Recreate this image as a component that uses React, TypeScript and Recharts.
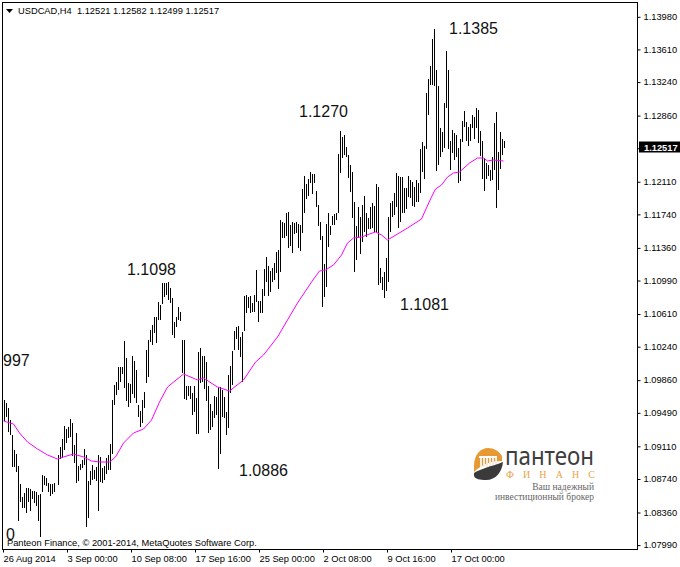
import { ComposedChart, Bar, Line, XAxis, YAxis } from "recharts";

const W = 680;
const H = 567;
const FONT = "'Liberation Sans', Arial, sans-serif";
const SERIF = "'Liberation Serif', serif";

// H4 highs and lows, one per bar, left to right
const highs = [
  1.09641, 1.09607, 1.0955, 1.09414, 1.09244, 1.09074, 1.09029, 1.08893, 1.08689, 1.08542,
  1.08587, 1.08644, 1.08644, 1.08633, 1.0861, 1.0861, 1.08598, 1.08565, 1.08576, 1.08791,
  1.0878, 1.08757, 1.087, 1.08689, 1.08689, 1.087, null, 1.09018, 1.09108, 1.09199,
  1.09346, 1.09312, 1.09335, 1.09425, 1.0938, 1.09131, 1.09267, 1.08893, 1.08916, 1.08961,
  1.09085, 1.09018, 1.08723, 1.08836, 1.08904, 1.08848, 1.08881, 1.09018, 1.08995, 1.0887,
  1.08893, 1.08983, 1.09018, 1.09142, 1.09641, 1.09811, 1.09845, 1.10015, 1.10015, 1.10015,
  1.1031, 1.10117, 1.09834, 1.09823, 1.1014, 1.10083, 1.09981, 1.09584, 1.09516, 1.09641,
  1.09732, 1.10208, 1.10321, 1.10435, 1.10491, 1.10582, 1.10582, 1.10752, 1.10718, 1.10967,
  1.10967, 1.10967, 1.10979, 1.10911, 1.10798, 1.10525, 1.10582, 1.10696, 1.10639, 1.10321,
  1.10321, 1.098, 1.098, 1.098, 1.0972, 1.098, 1.09664, 1.10185, 1.10231, 1.1014,
  1.1014, 1.10072, 1.098, 1.09596, 1.09516, 1.09686, 1.09675, 1.09789, 1.09789, 1.09754,
  1.09675, 1.09505, 1.09924, 1.10027, 1.10197, 1.10423, 1.10469, 1.1048, 1.10355, 1.10412,
  1.1082, 1.10832, 1.10809, 1.1082, 1.10741, 1.10832, 1.11115, 1.10763, 1.10763, 1.109,
  1.11126, 1.11263, 1.11161, 1.11104, 1.11138, 1.11195, 1.11319, 1.11342, 1.11682, 1.11659,
  1.11648, 1.11761, 1.11772, 1.11625, 1.11659, 1.11648, 1.11659, 1.11637, 1.11625, 1.12033,
  1.12181, 1.1209, 1.12147, 1.12226, 1.12203, 1.12203, 1.12011, 1.11852, 1.11659, 1.115,
  1.11183, 1.11637, 1.11761, 1.11614, 1.11727, 1.1175, 1.11761, 1.1243, 1.12691, 1.12623,
  1.12646, 1.12509, 1.12419, 1.12305, 1.12226, 1.11886, 1.11614, 1.11829, 1.11716, 1.11852,
  1.11954, 1.11761, 1.11705, 1.11829, 1.11875, 1.11841, 1.1209, 1.12056, 1.11138, 1.11036,
  1.11092, 1.11251, 1.11716, 1.11875, 1.11897, 1.11988, 1.12215, 1.12181, 1.12169, 1.12169,
  1.12045, 1.12045, 1.12181, 1.12135, 1.12113, 1.12056, 1.12135, 1.12101, 1.12487, 1.12566,
  1.12521, 1.13122, 1.1328, 1.13428, 1.13734, 1.13847, 1.13382, 1.13201, 1.12725, 1.12679,
  1.13008, 1.13598, 1.13382, 1.12577, 1.12702, 1.12668, 1.12646, 1.12498, 1.126, 1.12804,
  1.12918, 1.12793, 1.12736, 1.1277, 1.12872, 1.1285, 1.12952, 1.12929, 1.12691, 1.12577,
  1.12385, 1.12328, 1.12305, 1.12249, 1.12396, 1.12781, 1.12906, 1.12453, 1.12679, 1.126,
  1.12582,
];

const lows = [
  1.09403, 1.09448, 1.09278, 1.09244, 1.08881, 1.08881, 1.08825, 1.0827, 1.08485, 1.08417,
  1.08417, 1.08361, 1.08485, 1.08383, 1.08519, 1.08474, 1.0844, 1.0827, 1.08089, 1.08598,
  1.08678, 1.08667, 1.08598, 1.08553, 1.08576, 1.08598, null, 1.08678, 1.08972, 1.08983,
  1.09074, 1.09153, 1.0921, 1.09222, 1.09006, 1.08927, 1.087, 1.08723, 1.08848, 1.0887,
  1.08904, 1.08202, 1.08304, 1.08678, 1.08734, 1.08746, 1.08723, 1.08383, 1.08712, 1.087,
  1.08734, 1.08802, 1.08848, 1.08848, 1.09029, 1.09584, 1.09698, 1.09754, 1.09845, 1.09936,
  1.09777, 1.0963, 1.09562, 1.09607, 1.09709, 1.09664, 1.09607, 1.09448, 1.09335, 1.0938,
  1.0955, 1.09834, 1.09902, 1.10299, 1.10265, 1.10401, 1.10287, 1.10548, 1.10548, 1.10729,
  1.10809, 1.10832, 1.10775, 1.10741, 1.10378, 1.10344, 1.10469, 1.10548, 1.10537, 1.09947,
  1.09652, 1.09641, 1.09686, 1.09652, 1.09471, 1.09505, 1.09256, 1.09256, 1.09834, 1.09845,
  1.09766, 1.0963, 1.09267, 1.09301, 1.09335, 1.09437, 1.09471, 1.08859, 1.09029, 1.09448,
  1.09437, 1.09244, 1.09324, 1.0972, 1.09811, 1.10208, 1.10333, 1.10208, 1.10129, 1.09845,
  1.10423, 1.10627, 1.10684, 1.10627, 1.10639, 1.10639, 1.10752, 1.10525, 1.10627, 1.10627,
  1.1082, 1.10979, 1.1082, 1.10866, 1.10979, 1.11001, 1.11081, 1.109, 1.11092, 1.11478,
  1.11478, 1.115, 1.11364, 1.11387, 1.11308, 1.11523, 1.11534, 1.11364, 1.1133, 1.11534,
  1.11761, 1.1192, 1.11954, 1.12101, 1.11977, 1.12101, 1.11829, 1.11614, 1.11455, 1.10696,
  1.10809, 1.10922, 1.11376, 1.11512, 1.11625, 1.11625, 1.11682, 1.11761, 1.12215, 1.12385,
  1.12419, 1.12396, 1.12158, 1.11999, 1.11705, 1.11092, 1.11228, 1.11478, 1.11296, 1.11432,
  1.11546, 1.11489, 1.1158, 1.1158, 1.11591, 1.11546, 1.11534, 1.10945, 1.10967, 1.10888,
  1.10798, 1.10877, 1.10979, 1.11546, 1.11716, 1.11739, 1.11829, 1.11591, 1.11659, 1.11761,
  1.11761, 1.11807, 1.11943, 1.11931, 1.11841, 1.11829, 1.11886, 1.11886, 1.11988, 1.12226,
  1.12147, 1.12487, 1.12872, 1.13212, 1.13212, 1.13201, 1.12237, 1.12305, 1.12396, 1.12453,
  1.12498, 1.12952, 1.12487, 1.12249, 1.12441, 1.12362, 1.12396, 1.12101, 1.12124, 1.12566,
  1.12736, 1.12577, 1.12521, 1.12577, 1.12725, 1.126, 1.12725, 1.12555, 1.12407, 1.12147,
  1.12011, 1.12147, 1.12181, 1.12124, 1.12135, 1.12249, 1.11818, 1.12022, 1.1226, 1.12419,
  1.12499,
];

// moving average, read at the bars where its slope visibly changes
const maBars = [
  0, 5, 8, 12, 17, 22, 27, 30, 35, 40, 44, 48, 53, 56, 60, 65, 70, 74, 78, 82, 90, 97, 100, 107,
  113, 120, 126, 130, 137, 142, 147, 154, 158, 161, 165, 169, 172, 175, 179, 183, 186, 189, 192,
  197, 202, 209, 211, 214, 216, 219, 222, 225, 228, 233, 237, 240, 242, 245, 250,
];
const maValues = [
  1.09403, 1.09369, 1.09267, 1.09165, 1.09085, 1.09018, 1.08972, 1.08995, 1.09029, 1.08995,
  1.0895, 1.08938, 1.08938, 1.08995, 1.09153, 1.09267, 1.09312, 1.09414, 1.09618, 1.09788,
  1.09936, 1.09868, 1.09891, 1.09788, 1.09743, 1.09868, 1.10072, 1.10151, 1.10355, 1.10548,
  1.10741, 1.10979, 1.11104, 1.11115, 1.11172, 1.11285, 1.11421, 1.11478, 1.11489, 1.11523,
  1.11546, 1.11512, 1.11455, 1.11523, 1.11591, 1.11693, 1.11795, 1.11943, 1.12033, 1.12079,
  1.12169, 1.12215, 1.12226, 1.12328, 1.12385, 1.12385, 1.12351, 1.12362, 1.12351,
];

const priceTicks = [
  1.1398, 1.1361, 1.1324, 1.1286, 1.1249, 1.1211, 1.1174, 1.1136, 1.1099, 1.1061, 1.1024,
  1.0986, 1.0949, 1.0911, 1.0874, 1.0836, 1.0799,
];
const timeBars = [0, 32, 64, 96, 128, 160, 192, 224];
const timeLabels = [
  "26 Aug 2014", "3 Sep 00:00", "10 Sep 08:00", "17 Sep 16:00",
  "25 Sep 00:00", "2 Oct 08:00", "9 Oct 16:00", "17 Oct 00:00",
];

const notes = [
  { text: "1.1385", x: 449, y: 34 },
  { text: "1.1270", x: 299, y: 117 },
  { text: "1.1098", x: 127, y: 275 },
  { text: "1.1081", x: 400, y: 310 },
  { text: "997", x: 3, y: 366 },
  { text: "1.0886", x: 239, y: 476 },
  { text: "0", x: 6, y: 540 },
];

const table = highs.map((high, i) => {
  const m = maBars.indexOf(i);
  return {
    bar: i,
    range: high === null ? null : [lows[i], high],
    ma: m >= 0 ? maValues[m] : null,
  };
});

function Logo() {
  return (
    <g>
      <path d="M474 466 C474 454 481 448 488 448 C494 448 499 451 502 456 L502 461 C492 461 482 464 474 472 Z" fill="#e79a34" />
      <rect x="479" y="456" width="18" height="2" fill="#fff" />
      {[480, 483, 486, 489, 492, 495].map((cx) => (
        <rect key={cx} x={cx} y="458" width="2" height="9" fill="#f4ecdf" />
      ))}
      <path d="M474 473 C482 468 490 467 503 462 C502 472 496 480 486 480 C480 480 475 479 474 476 Z" fill="#3a3a3a" />
      <text x="505" y="465" fontFamily="'Noto Sans', sans-serif" fontSize="25" fill="#3d3d3d" textLength="89" lengthAdjust="spacingAndGlyphs">пантеон</text>
      <text x="506" y="478" fontFamily={SERIF} fontSize="10" fill="#eba248" textLength="89">ФИНАНС</text>
      <text x="594" y="490" textAnchor="end" fontFamily={SERIF} fontSize="9.5" fill="#666">Ваш надежный</text>
      <text x="594" y="500" textAnchor="end" fontFamily={SERIF} fontSize="9.5" fill="#666">инвестиционный брокер</text>
    </g>
  );
}

export default function App() {
  return (
    <div style={{ position: "absolute", left: 0, top: 0, width: W, height: H, background: "#fff" }}>
      <ComposedChart
        width={W}
        height={H}
        data={table}
        margin={{ top: 2.5, right: 0, bottom: 0, left: 2.5 }}
      >
        <XAxis
          dataKey="bar"
          type="category"
          scale="band"
          padding={{ left: 0, right: 133 }}
          ticks={timeBars}
          interval={0}
          tickFormatter={(v: number) => timeLabels[timeBars.indexOf(v)]}
          tick={{ fontSize: 9.3, fill: "#000", fontFamily: FONT, textAnchor: "start" }}
          tickSize={3}
          tickMargin={3}
          height={17.5}
          axisLine={false}
          tickLine={{ stroke: "#000" }}
        />
        <YAxis
          orientation="right"
          type="number"
          domain={[1.07946, 1.14148]}
          allowDataOverflow
          ticks={priceTicks}
          interval={0}
          tickFormatter={(v: number) => v.toFixed(5)}
          tick={{ fontSize: 9.3, fill: "#000", fontFamily: FONT, dy: -0.5 }}
          tickSize={3}
          tickMargin={3}
          width={42.5}
          axisLine={false}
          tickLine={{ stroke: "#000" }}
        />
        <Bar dataKey="range" fill="#000" barSize={1} shapeRendering="crispEdges" isAnimationActive={false} />
        <Line
          dataKey="ma"
          type="linear"
          stroke="#ff00ff"
          strokeWidth={1}
          dot={false}
          connectNulls
          isAnimationActive={false}
        />
      </ComposedChart>
      {/* terminal frame, labels and logo drawn over the plot */}
      <svg width={W} height={H} style={{ position: "absolute", left: 0, top: 0, pointerEvents: "none" }}>
        <rect x="2.5" y="2.5" width="635" height="547" fill="none" stroke="#000" />
        <path d="M6 9 L13 9 L9.5 13 Z" fill="#000" />
        <text x="18" y="14" fontFamily={FONT} fontSize="9.3" fill="#000" xmlSpace="preserve">
          USDCAD,H4  1.12521 1.12582 1.12499 1.12517
        </text>
        {notes.map((n) => (
          <text key={n.text} x={n.x} y={n.y} fontFamily={FONT} fontSize="16" fill="#111">
            {n.text}
          </text>
        ))}
        <text x="7" y="546" fontFamily={FONT} fontSize="9.3" fill="#000">
          Panteon Finance, © 2001-2014, MetaQuotes Software Corp.
        </text>
        <Logo />
        <rect x="639" y="141.5" width="41" height="11" fill="#000" />
        <text x="644" y="150.5" fontFamily={FONT} fontSize="9.3" fill="#fff" fontWeight="bold">1.12517</text>
      </svg>
    </div>
  );
}
